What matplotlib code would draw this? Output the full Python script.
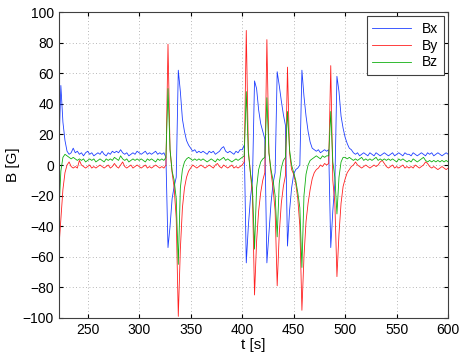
import numpy as np
import matplotlib
matplotlib.use("Agg")
import matplotlib.pyplot as plt

plt.rcParams['font.family'] = ['Liberation Sans', 'DejaVu Sans']

# time grid, 2 s steps
t = np.arange(222, 601, 2)

bx = [
    8, 52, 28, 16, 9, 7, 8, 11, 8, 9,
    7, 8, 6, 8, 9, 7, 8, 6, 7, 8,
    7, 9, 7, 6, 8, 7, 9, 8, 9, 8,
    10, 8, 7, 8, 6, 7, 8, 7, 9, 8,
    7, 8, 9, 7, 8, 7, 8, 9, 7, 8,
    7, 8, 5, -54, -40, -22, -14, -8, 62, 48,
    30, 22, 16, 13, 11, 9, 10, 8, 9, 8,
    9, 8, 7, 9, 8, 9, 7, 8, 9, 11,
    12, 9, 8, 9, 8, 7, 9, 8, 10, 10,
    13, -64, -40, -22, -10, 55, 50, 36, 27, 22,
    17, -64, -45, -25, -12, -5, 61, 52, 42, 33,
    26, -53, -30, -15, -6, -3, -2, 0, 62, 45,
    32, 22, 15, 11, 10, 9, 10, 8, 9, 10,
    9, 10, -54, -30, -12, 58, 48, 32, 24, 18,
    14, 11, 10, 8, 7, 8, 6, 7, 8, 7,
    6, 8, 7, 6, 8, 7, 6, 7, 8, 7,
    6, 7, 8, 6, 7, 8, 7, 6, 8, 7,
    7, 6, 8, 7, 6, 7, 8, 7, 6, 8,
    7, 8, 6, 7, 8, 7, 6, 7, 8, 7,
]

by = [
    -55, -36, -16, -5, 0, 2, -1, -2, -1, -2,
    3, 0, -1, -2, -1, 0, -2, -1, -2, -1,
    0, -1, -2, -1, 0, -2, -1, 1, -1, -2,
    0, 2, -1, -2, -1, 0, -2, -1, 0, -1,
    -2, -1, 0, -2, -1, -2, -1, 0, -1, -2,
    -1, -2, 0, 79, 10, -5, -15, -35, -99, -55,
    -28, -15, -8, -4, -2, 0, -1, -2, -1, 0,
    -1, -2, -1, 0, -1, -2, 0, 1, -1, -2,
    0, -1, -2, -1, 0, -2, -1, -2, -1, 0,
    2, 88, 10, -5, -20, -85, -50, -30, -18, -10,
    -5, 82, 8, -5, -15, -30, -79, -45, -25, -14,
    -7, 64, 8, -3, -6, -12, -22, -40, -95, -60,
    -37, -25, -16, -9, -5, -3, -2, 0, -1, 1,
    0, 1, 65, -10, -25, -73, -45, -25, -14, -9,
    -5, -3, -1, 0, 2, 0, -1, -2, -1, 0,
    -1, -2, -1, 0, -1, 0, 2, 3, 1, -1,
    -2, -1, 0, -2, -1, -2, -1, 0, -2, -1,
    -2, -1, -2, 0, -1, -2, -1, 0, 2, 1,
    -1, -2, -1, -2, -3, -2, -1, -2, -3, -2,
]

bz = [
    -32, -4, 5, 7, 6, 5, 4, 5, 4, 3,
    4, 3, 4, 2, 3, 4, 3, 4, 2, 3,
    4, 3, 2, 4, 3, 4, 3, 5, 4, 3,
    6, 4, 3, 4, 2, 3, 4, 3, 4, 3,
    4, 3, 2, 4, 3, 4, 3, 2, 4, 3,
    4, 3, 5, 50, 10, -4, -10, -22, -65, -15,
    -3, 2, 4, 5, 4, 3, 4, 3, 4, 3,
    4, 3, 2, 3, 4, 3, 2, 4, 3, 4,
    5, 3, 4, 3, 2, 3, 4, 3, 4, 5,
    6, 48, 8, -5, -15, -55, -15, -3, 2, 4,
    5, 44, 8, -3, -10, -20, -47, -12, -2, 3,
    5, 35, 10, 0, -5, -10, -18, -28, -67, -20,
    -6, 0, 3, 4, 5, 6, 5, 4, 6, 5,
    6, 6, 35, 2, -8, -32, -8, 2, 5, 5,
    4, 5, 4, 3, 4, 3, 4, 5, 3, 4,
    3, 4, 3, 4, 5, 3, 4, 3, 4, 3,
    4, 3, 4, 3, 2, 4, 3, 4, 3, 2,
    3, 2, 4, 3, 2, 3, 4, 5, 3, 2,
    3, 2, 3, 2, 3, 2, 3, 2, 3, 2,
]

fig = plt.figure(figsize=(4.63, 3.56), dpi=100)
ax = fig.add_axes([0.127, 0.107, 0.841, 0.859])

ax.plot(t, bx, color='#1f3fff', lw=0.6, label='Bx')
ax.plot(t, by, color='#ff1f1f', lw=0.6, label='By')
ax.plot(t, bz, color='#10b010', lw=0.6, label='Bz')

ax.set_xlim(222, 600)
ax.set_ylim(-100, 100)
ax.set_xticks(np.arange(250, 601, 50))
ax.set_yticks(np.arange(-100, 101, 20))
ax.grid(True, linestyle=(0, (1, 3)), color='#a0a0a0', lw=0.6)
ax.tick_params(direction='in', top=True, right=True, labelsize=10, length=3)
for s in ax.spines.values():
    s.set_color('#404040')

ax.set_xlabel('t [s]', fontsize=11, labelpad=1)
ax.set_ylabel('B [G]', fontsize=11, labelpad=2)

leg = ax.legend(loc='upper right', fontsize=10, fancybox=False,
                edgecolor='#404040', framealpha=1, handlelength=2.8,
                borderaxespad=0.3, labelspacing=0.2)
leg.get_frame().set_linewidth(0.8)

fig.savefig('out.png', dpi=100)
